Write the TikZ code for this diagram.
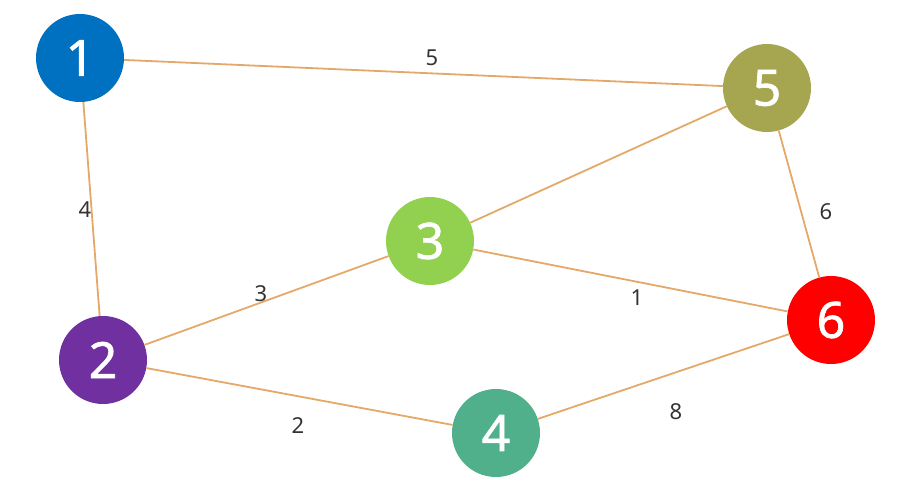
\documentclass[tikz,border=0pt]{standalone}
\usepackage{fontspec}
\setmainfont{Noto Sans}
\newfontfamily\vfont[BoldFont={Noto Sans},BoldFeatures={FakeBold=1.3}]{Noto Sans}
\definecolor{cone}{HTML}{0070C0}
\definecolor{ctwo}{HTML}{7030A0}
\definecolor{cthree}{HTML}{92D050}
\definecolor{cfour}{HTML}{50B08C}
\definecolor{cfive}{HTML}{A6A650}
\definecolor{csix}{HTML}{FF0000}
\definecolor{edgec}{HTML}{E4A868}
\definecolor{labc}{HTML}{333333}
\begin{document}
\begin{tikzpicture}[x=1pt,y=-1pt,
  vtx/.style={circle,minimum size=88pt,inner sep=0pt,text=white,font=\vfont\bfseries\fontsize{50}{50}\selectfont},
  edge/.style={draw=edgec,line width=1.8pt},
  wlab/.style={text=labc,font=\fontsize{22}{22}\selectfont,inner sep=0pt}]
\useasboundingbox (0,0) rectangle (906,493);
\node[vtx,fill=cone] (n1) at (80,58) {1};
\node[vtx,fill=cfive] (n5) at (767,88) {5};
\node[vtx,fill=cthree] (n3) at (430,241) {3};
\node[vtx,fill=ctwo] (n2) at (103,360) {2};
\node[vtx,fill=cfour] (n4) at (496,433) {4};
\node[vtx,fill=csix] (n6) at (831,320) {6};
\draw[edge] (n1) -- (n5);
\draw[edge] (n1) -- (n2);
\draw[edge] (n5) -- (n3);
\draw[edge] (n5) -- (n6);
\draw[edge] (n3) -- (n2);
\draw[edge] (n3) -- (n6);
\draw[edge] (n2) -- (n4);
\draw[edge] (n4) -- (n6);
\node[wlab] (l15) at (432,58) {5};
\node[wlab] (l12) at (85,210) {4};
\node[wlab] (l56) at (826,212) {6};
\node[wlab] (l23) at (261,294) {3};
\node[wlab] (l36) at (637,298) {1};
\node[wlab] (l24) at (298,426) {2};
\node[wlab] (l46) at (676,412) {8};
\end{tikzpicture}
\end{document}
